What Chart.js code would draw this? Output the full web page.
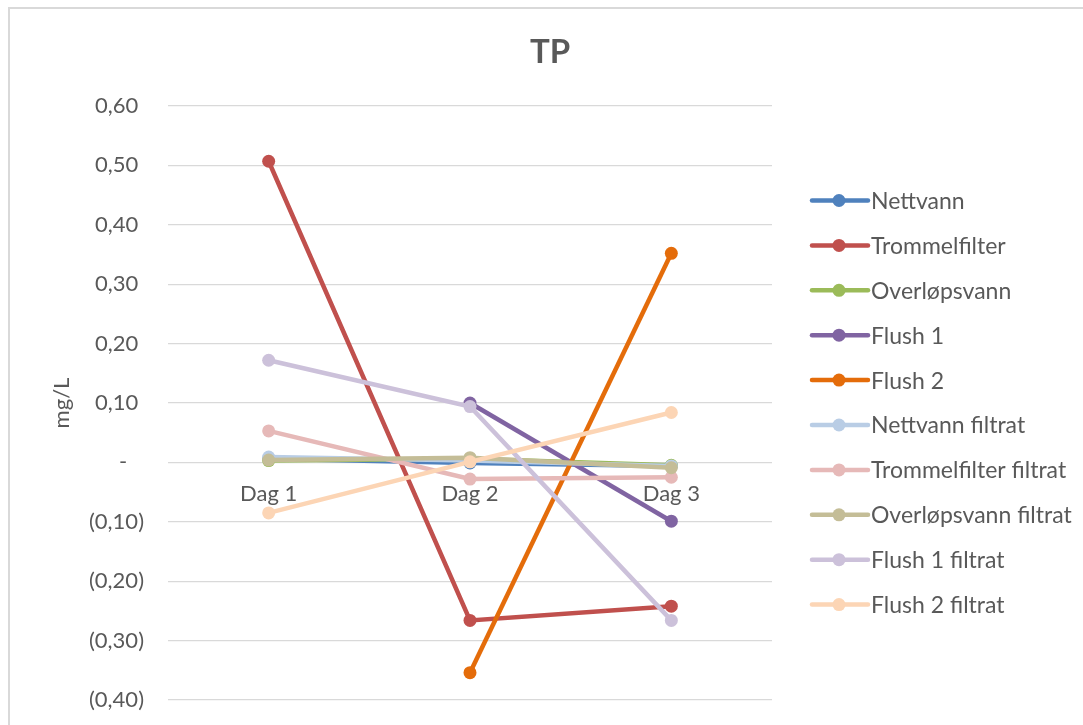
<!DOCTYPE html>
<html>
<head>
<meta charset="utf-8">
<title>TP</title>
<script src="https://cdn.jsdelivr.net/npm/chart.js@4"></script>
<style>
  html, body { margin: 0; padding: 0; background: #ffffff; }
  canvas { display: block; }
</style>
</head>
<body>
<canvas id="chart" width="1083" height="725"></canvas>
<script>
// Sampling days
const days = ['Dag 1', 'Dag 2', 'Dag 3'];

// Total phosphorus per sample type, mg/L (null = not measured)
const nettvann            = [0.006, -0.001, -0.006];
const trommelfilter       = [0.507, -0.266, -0.242];
const overlopsvann        = [0.003, 0.006, -0.005];
const flush1              = [null, 0.100, -0.099];
const flush2              = [null, -0.354, 0.352];
const nettvannFiltrat     = [0.009, 0.003, -0.006];
const trommelfilterFiltrat = [0.053, -0.028, -0.025];
const overlopsvannFiltrat = [0.004, 0.008, -0.009];
const flush1Filtrat       = [0.172, 0.094, -0.266];
const flush2Filtrat       = [-0.085, 0.001, 0.084];

const seriesNames = ['Nettvann', 'Trommelfilter', 'Overløpsvann', 'Flush 1', 'Flush 2',
  'Nettvann filtrat', 'Trommelfilter filtrat', 'Overløpsvann filtrat', 'Flush 1 filtrat', 'Flush 2 filtrat'];
const seriesValues = [nettvann, trommelfilter, overlopsvann, flush1, flush2,
  nettvannFiltrat, trommelfilterFiltrat, overlopsvannFiltrat, flush1Filtrat, flush2Filtrat];
const seriesColors = ['#4F81BD', '#C0504D', '#9BBB59', '#8064A2', '#E46C0A',
  '#B9CDE5', '#E6B9B8', '#C4BD97', '#CCC1DA', '#FCD5B5'];

// Y axis range
const yMin = -0.4, yMax = 0.6, yStep = 0.1;

const chartTitle = 'TP';
const FONT = 'Lato, "Liberation Sans", sans-serif';
const TEXT = '#595959';
const GRID = '#D9D9D9';

const datasets = seriesNames.map((name, i) => ({
  label: name,
  data: seriesValues[i],
  borderColor: seriesColors[i],
  backgroundColor: seriesColors[i],
  pointBackgroundColor: seriesColors[i],
  pointBorderColor: seriesColors[i],
  borderWidth: 4.5,
  pointRadius: 6.5,
  pointBorderWidth: 0,
  tension: 0,
  spanGaps: false,
  order: -i  // later series are painted on top
}));

// Accounting-style number format: 0,60 / - / (0,10)
function fmt(v) {
  const r = Math.round(v * 100) / 100;
  if (Math.abs(r) < 1e-9) return '-   ';
  const s = Math.abs(r).toFixed(2).replace('.', ',');
  return r < 0 ? '(' + s + ')' : s + ' ';
}

// Outer frame and title, centred over the whole chart
const framePlugin = {
  id: 'frame',
  beforeDraw(chart) {
    const ctx = chart.ctx;
    ctx.save();
    ctx.fillStyle = '#ffffff';
    ctx.fillRect(0, 0, chart.width, chart.height);
    ctx.strokeStyle = GRID;
    ctx.lineWidth = 2;
    ctx.strokeRect(9, 8, chart.width, chart.height);
    ctx.fillStyle = TEXT;
    ctx.font = 'bold 33px ' + FONT;
    ctx.textAlign = 'center';
    ctx.textBaseline = 'alphabetic';
    ctx.fillText(chartTitle, 550, 63);
    ctx.restore();
  }
};

// Vertical legend with line-and-marker swatches
const sideLegend = {
  id: 'sideLegend',
  afterDraw(chart) {
    const ctx = chart.ctx;
    const x0 = 812, lineLen = 56, y0 = 200.5, pitch = 44.9;
    ctx.save();
    ctx.font = '23px ' + FONT;
    ctx.textBaseline = 'middle';
    ctx.textAlign = 'left';
    chart.data.datasets.forEach((ds, i) => {
      const y = y0 + i * pitch;
      ctx.strokeStyle = ds.borderColor;
      ctx.lineWidth = 4.5;
      ctx.lineCap = 'round';
      ctx.beginPath();
      ctx.moveTo(x0, y);
      ctx.lineTo(x0 + lineLen, y);
      ctx.stroke();
      ctx.fillStyle = ds.borderColor;
      ctx.beginPath();
      ctx.arc(x0 + lineLen / 2 - 1, y, 6.5, 0, Math.PI * 2);
      ctx.fill();
      ctx.fillStyle = TEXT;
      ctx.fillText(ds.label, 871, y + 1);
    });
    ctx.restore();
  }
};

new Chart(document.getElementById('chart'), {
  type: 'line',
  data: { labels: days, datasets },
  plugins: [framePlugin, sideLegend],
  options: {
    responsive: false,
    animation: false,
    events: [],
    layout: { padding: { left: 20, right: 311, top: 106, bottom: 25 } },
    plugins: {
      legend: { display: false },
      tooltip: { enabled: false },
      title: { display: false }
    },
    scales: {
      x: {
        type: 'category',
        position: { y: 0 },
        offset: true,
        grid: { display: false, drawTicks: false },
        border: { display: false },
        ticks: {
          color: TEXT,
          font: { family: FONT, size: 22 },
          padding: 18,
          maxRotation: 0,
          autoSkip: false
        }
      },
      y: {
        min: yMin,
        max: yMax,
        afterFit(scale) {
          scale.width = 148;
          scale.paddingTop = 12;
          scale.paddingBottom = 12;
        },
        grid: { color: GRID, lineWidth: 1.3, drawTicks: false },
        border: { display: false },
        ticks: {
          stepSize: yStep,
          color: TEXT,
          font: { family: FONT, size: 22 },
          padding: 24,
          callback: (v) => fmt(v)
        },
        title: {
          display: true,
          text: 'mg/L',
          color: TEXT,
          font: { family: FONT, size: 22 },
          padding: { top: 29, bottom: 0 }
        }
      }
    }
  }
});
</script>
</body>
</html>
